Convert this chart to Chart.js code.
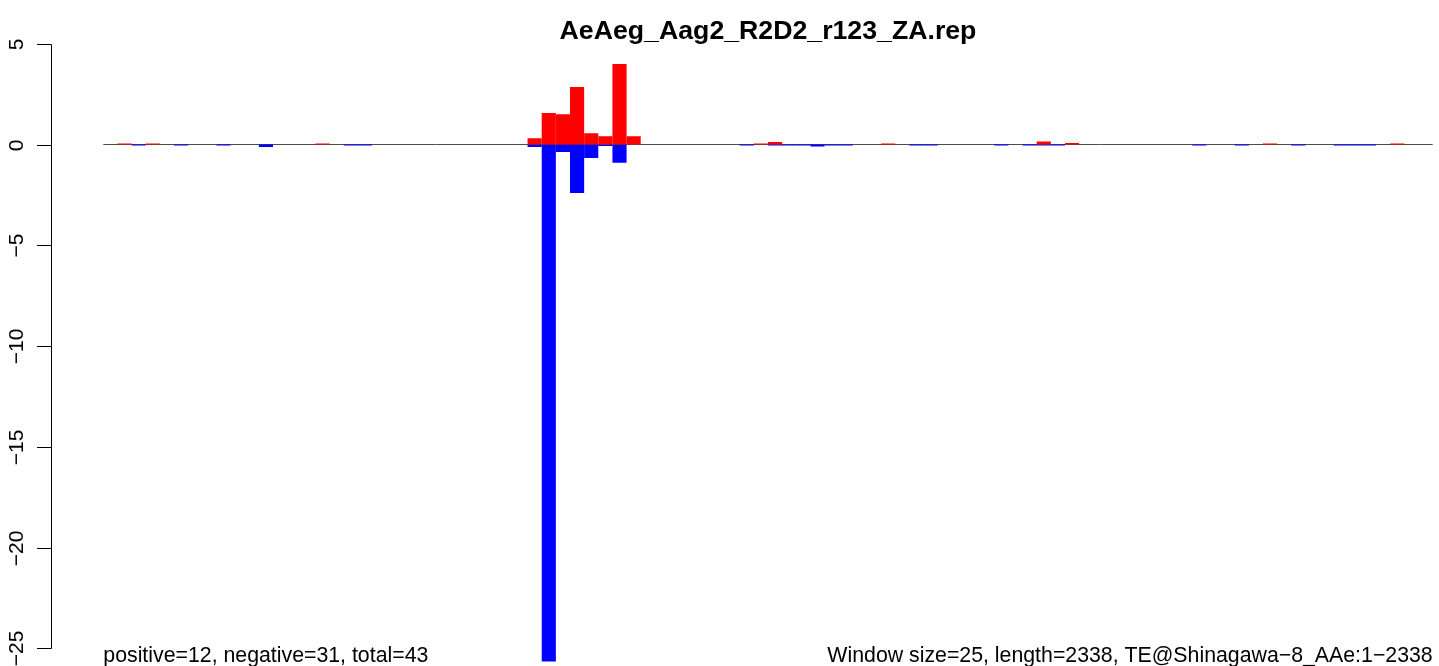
<!DOCTYPE html>
<html>
<head>
<meta charset="utf-8">
<script src="https://cdn.jsdelivr.net/npm/chart.js@4/dist/chart.umd.min.js"></script>
<style>
  html, body { margin: 0; padding: 0; background: #ffffff; }
  #wrap { width: 1439px; height: 666px; }
</style>
</head>
<body>
<div id="wrap"><canvas id="c" width="1439" height="666"></canvas></div>
<script>
// ---- data (94 windows of 25 nt over length 2338) ----
const titleText = "AeAeg_Aag2_R2D2_r123_ZA.rep";
const leftNote = "positive=12, negative=31, total=43";
const rightNote = "Window size=25, length=2338, TE@Shinagawa\u22128_AAe:1\u22122338";

const windowStarts = [
  1, 26, 51, 76, 101, 126, 151, 176, 201, 226,
  251, 276, 301, 326, 351, 376, 401, 426, 451, 476,
  501, 526, 551, 576, 601, 626, 651, 676, 701, 726,
  751, 776, 801, 826, 851, 876, 901, 926, 951, 976,
  1001, 1026, 1051, 1076, 1101, 1126, 1151, 1176, 1201, 1226,
  1251, 1276, 1301, 1326, 1351, 1376, 1401, 1426, 1451, 1476,
  1501, 1526, 1551, 1576, 1601, 1626, 1651, 1676, 1701, 1726,
  1751, 1776, 1801, 1826, 1851, 1876, 1901, 1926, 1951, 1976,
  2001, 2026, 2051, 2076, 2101, 2126, 2151, 2176, 2201, 2226,
  2251, 2276, 2301, 2326
];

const positiveValues = [
  0, 0.05, 0, 0.05, 0, 0, 0, 0, 0, 0,
  0, 0, 0, 0, 0, 0.05, 0, 0, 0, 0,
  0, 0, 0, 0, 0, 0, 0, 0, 0, 0,
  0.31, 1.56, 1.50, 2.85, 0.56, 0.41, 4.00, 0.41, 0, 0,
  0, 0, 0, 0, 0, 0, 0.05, 0.12, 0, 0,
  0, 0, 0, 0, 0, 0.05, 0, 0, 0, 0,
  0, 0, 0, 0, 0, 0, 0.15, 0, 0.08, 0,
  0, 0, 0, 0, 0, 0, 0, 0, 0, 0,
  0, 0, 0.05, 0, 0, 0, 0, 0, 0, 0,
  0, 0.05, 0, 0
];

const negativeValues = [
  0, 0, -0.05, 0, 0, -0.05, 0, 0, -0.05, 0,
  0, -0.12, 0, 0, 0, 0, 0, -0.05, -0.05, 0,
  0, 0, 0, 0, 0, 0, 0, 0, 0, 0,
  -0.13, -25.66, -0.37, -2.41, -0.67, -0.08, -0.91, 0, 0, 0,
  0, 0, 0, 0, 0, -0.05, 0, -0.05, -0.05, -0.05,
  -0.10, -0.05, -0.05, 0, 0, 0, 0, -0.05, -0.05, 0,
  0, 0, 0, -0.05, 0, -0.05, -0.05, -0.05, 0, 0,
  0, 0, 0, 0, 0, 0, 0, -0.05, 0, 0,
  -0.05, 0, 0, 0, -0.05, 0, 0, -0.05, -0.05, -0.05,
  0, 0, 0, 0
];

const yTickValues = [5, 0, -5, -10, -15, -20, -25];
const yTickLabels = ["5", "0", "\u22125", "\u221210", "\u221215", "\u221220", "\u221225"];

const FONT = '"Liberation Sans", Arial, Helvetica, sans-serif';

// baseline at zero, drawn beneath the bars
const baselinePlugin = {
  id: 'baseline',
  beforeDatasetsDraw(chart) {
    const { ctx, chartArea, scales } = chart;
    const y = scales.y.getPixelForValue(0);
    ctx.save();
    ctx.strokeStyle = '#4d4d4d';
    ctx.lineWidth = 1;
    ctx.beginPath();
    ctx.moveTo(chartArea.left, y);
    ctx.lineTo(chartArea.right, y);
    ctx.stroke();
    ctx.restore();
  }
};

// R-style left axis and bottom notes
const decorPlugin = {
  id: 'decor',
  afterDraw(chart) {
    const { ctx, chartArea, scales } = chart;
    const ys = scales.y;
    const axisX = 51.5;
    const yTop = ys.getPixelForValue(yTickValues[0]);
    const yBot = ys.getPixelForValue(yTickValues[yTickValues.length - 1]);
    ctx.save();
    ctx.strokeStyle = '#000';
    ctx.lineWidth = 1;
    ctx.beginPath();
    ctx.moveTo(axisX, Math.round(yTop) + 0.5);
    ctx.lineTo(axisX, Math.round(yBot) + 0.5);
    ctx.stroke();
    ctx.fillStyle = '#000';
    ctx.font = '21px ' + FONT;
    ctx.textAlign = 'center';
    ctx.textBaseline = 'alphabetic';
    yTickValues.forEach((v, i) => {
      const py = Math.round(ys.getPixelForValue(v)) + 0.5;
      ctx.beginPath();
      ctx.moveTo(37, py);
      ctx.lineTo(axisX, py);
      ctx.stroke();
      ctx.save();
      ctx.translate(23, py);
      ctx.rotate(-Math.PI / 2);
      ctx.fillText(yTickLabels[i], 0, 0);
      ctx.restore();
    });
    ctx.font = '21.3px ' + FONT;
    ctx.textAlign = 'left';
    ctx.fillText(leftNote, chartArea.left, 662);
    ctx.textAlign = 'right';
    ctx.fillText(rightNote, chartArea.right, 662);
    ctx.restore();
  }
};

new Chart(document.getElementById('c'), {
  type: 'bar',
  data: {
    labels: windowStarts,
    datasets: [
      {
        label: 'positive',
        data: positiveValues,
        backgroundColor: '#ff0000',
        borderWidth: 0,
        inflateAmount: 0,
        grouped: false,
        barPercentage: 1,
        categoryPercentage: 1
      },
      {
        label: 'negative',
        data: negativeValues,
        backgroundColor: '#0000ff',
        borderWidth: 0,
        inflateAmount: 0,
        grouped: false,
        barPercentage: 1,
        categoryPercentage: 1
      }
    ]
  },
  options: {
    responsive: false,
    devicePixelRatio: 1,
    animation: false,
    layout: { padding: { left: 103.3, right: 6.3, top: 0, bottom: 0 } },
    plugins: {
      legend: { display: false },
      tooltip: { enabled: false },
      title: {
        display: true,
        text: titleText,
        color: '#000',
        font: { family: FONT, size: 26.7, weight: 'bold', lineHeight: 1.0 },
        padding: { top: 18.6, bottom: 14.57 }
      }
    },
    scales: {
      x: {
        type: 'category',
        display: false,
        offset: true,
        grid: { display: false }
      },
      y: {
        display: false,
        min: -25.88,
        max: 4.2,
        grid: { display: false }
      }
    }
  },
  plugins: [baselinePlugin, decorPlugin]
});
</script>
</body>
</html>
